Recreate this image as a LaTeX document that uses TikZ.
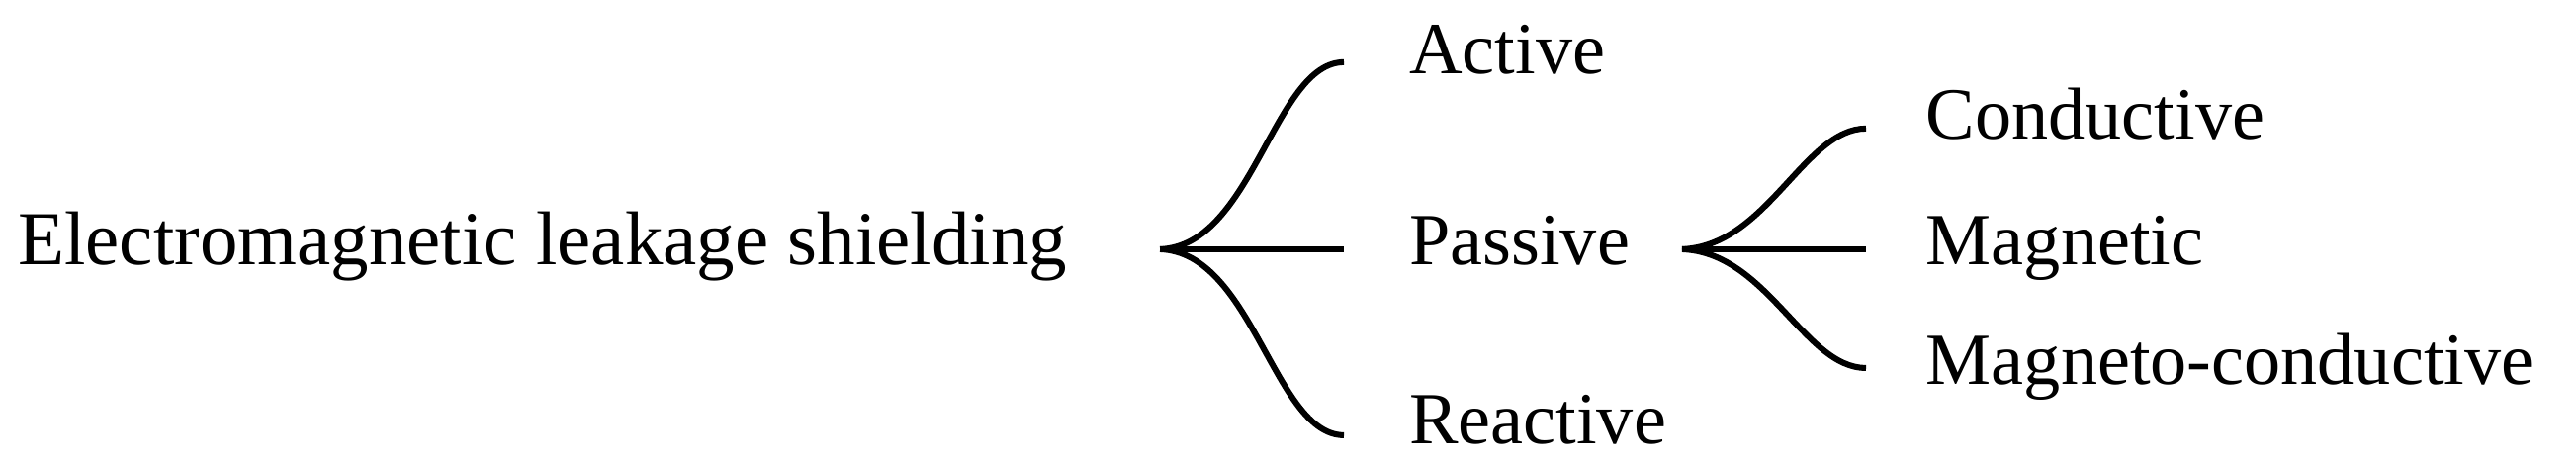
\documentclass[tikz,border=0pt]{standalone}
\usepackage{fontspec}
\setmainfont{Liberation Serif}
\usepackage{tikz}

\begin{document}
\begin{tikzpicture}[
        brace/.style={line width=1.1pt},
        label/.style={anchor=base west, inner sep=0pt, font=\fontsize{13.5}{16}\selectfont}
    ]
        \useasboundingbox (0,0) rectangle (16.646,3.022);

        \node[label, font=\fontsize{14}{16}\selectfont] (shield) at (0.11,1.31) {Electromagnetic leakage shielding};

        % first level
        \coordinate (root) at (7.496,1.412);
        \coordinate (a1) at (8.684,2.620);
        \coordinate (a2) at (8.684,1.412);
        \coordinate (a3) at (8.684,0.211);
        \node[label] (active) at (9.10,2.543) {Active};
        \node[label] (passive) at (9.10,1.31) {Passive};
        \node[label] (reactive) at (9.10,0.153) {Reactive};

        \draw[brace] (root) .. controls +(0.6,0.02) and +(-0.45,0) .. (a1);
        \draw[brace] (root) -- (a2);
        \draw[brace] (root) .. controls +(0.6,-0.02) and +(-0.45,0) .. (a3);

        % second level
        \coordinate (sub) at (10.869,1.412);
        \coordinate (b1) at (12.058,2.192);
        \coordinate (b2) at (12.058,1.412);
        \coordinate (b3) at (12.058,0.645);
        \node[label] (cond) at (12.44,2.121) {Conductive};
        \node[label] (magn) at (12.44,1.31) {Magnetic};
        \node[label] (mcond) at (12.44,0.537) {Magneto-conductive};

        \draw[brace] (sub) .. controls +(0.55,0.02) and +(-0.4,0) .. (b1);
        \draw[brace] (sub) -- (b2);
        \draw[brace] (sub) .. controls +(0.55,-0.02) and +(-0.4,0) .. (b3);
    \end{tikzpicture}
\end{document}
